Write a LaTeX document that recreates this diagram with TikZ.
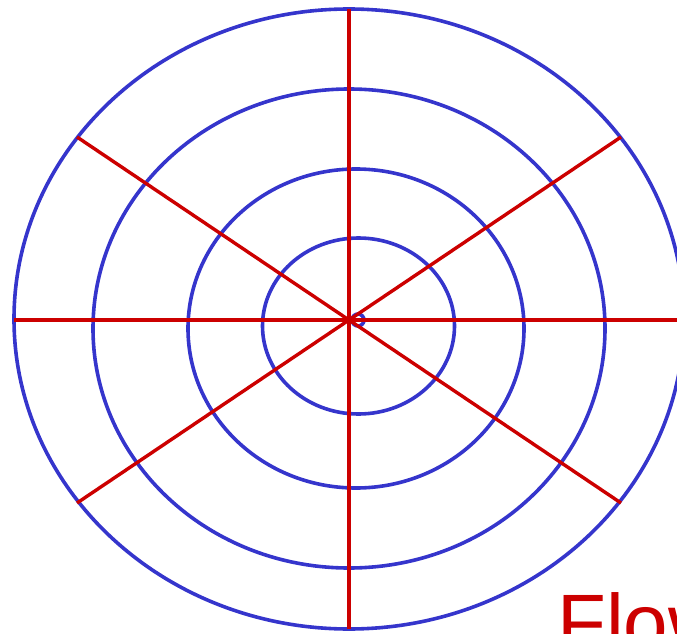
\documentclass[tikz,border=0pt]{standalone}
\usepackage{fontspec}
\setmainfont{Liberation Sans}
\definecolor{ringblue}{HTML}{3535CC}
\definecolor{spokered}{HTML}{CC0000}
\tikzset{
  ring/.style={draw=ringblue, line width=3.6pt},
  spoke/.style={draw=spokered, line width=3.4pt},
  flowlabel/.style={text=spokered, anchor=base west, inner sep=0pt, font=\fontsize{80}{80}\selectfont}
}
\begin{document}
\begin{tikzpicture}[x=1pt,y=-1pt]
\useasboundingbox (0,0) rectangle (677,634);
\clip (0,0) rectangle (677,634);
% rings
\draw[ring] (349,319) ellipse [x radius=335, y radius=310];
\draw[ring] (349,328.5) ellipse [x radius=256, y radius=239.5];
\draw[ring] (356,328.5) ellipse [x radius=168, y radius=159.5];
\draw[ring] (358.5,326) ellipse [x radius=96, y radius=88];
\draw[ring] (358,320) circle [radius=6];
% spokes
\coordinate (c) at (349,320);
\coordinate (n) at (349,9);
\coordinate (s) at (349,629);
\coordinate (w) at (14,320);
\coordinate (e) at (690,320);
\coordinate (nw) at (77,137);
\coordinate (ne) at (621,137);
\coordinate (sw) at (77,503);
\coordinate (se) at (621,503);
\draw[spoke] (n) -- (s);
\draw[spoke] (w) -- (e);
\draw[spoke] (nw) -- (se);
\draw[spoke] (sw) -- (ne);
\node[flowlabel] (flow) at (557,650) {Flow};
\end{tikzpicture}
\end{document}
